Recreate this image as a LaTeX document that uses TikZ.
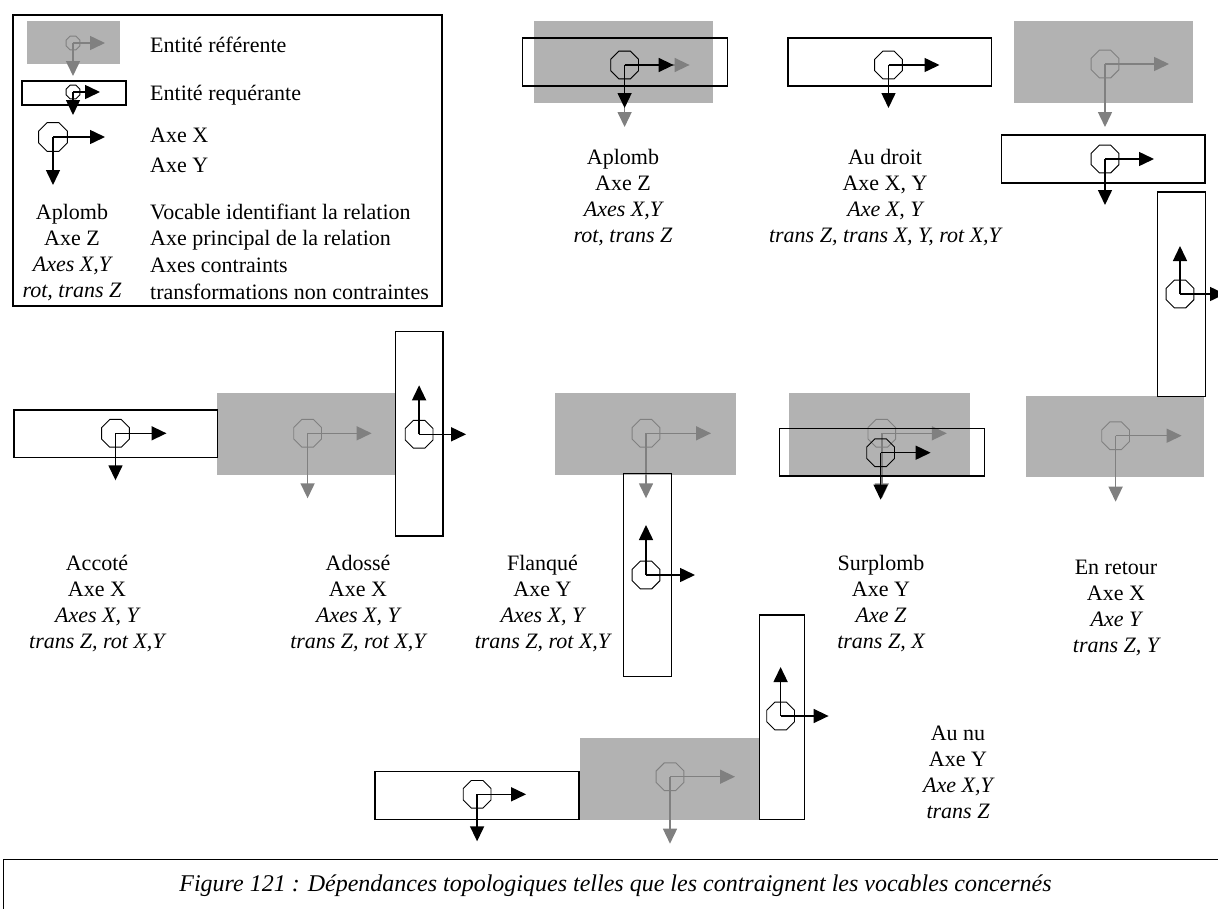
\documentclass[tikz,border=0pt]{standalone}
\usepackage{fontspec}
\setmainfont{Liberation Serif}
\usetikzlibrary{arrows.meta,positioning,shapes.geometric}

\definecolor{refgrey}{RGB}{178,178,178}
\definecolor{axgrey}{RGB}{128,128,128}

\newcommand{\txt}{\fontsize{22}{26}\selectfont}
\newcommand{\lineh}{26pt}

% axis symbol: [octagon size] name, colour, origin, x length, y length
\newcommand{\axsym}[6][30pt]{%
  \node[octo, draw=#3, minimum size=#1] (#2) at (#4) {};
  \draw[axis, #3] (#2.center) -- ++(#5,0);
  \draw[axis, #3] (#2.center) -- ++(0,#6);
}

% vocable block: name, first baseline, four lines
\newcommand{\vocab}[6]{%
  \node[lbl] (#1) at (#2) {#3};
  \node[lbl] (#1-ax) at ([yshift=-\lineh]#1.base) {#4};
  \node[ilbl] (#1-cs) at ([yshift=-\lineh]#1-ax.base) {#5};
  \node[ilbl] (#1-tr) at ([yshift=-\lineh]#1-cs.base) {#6};
}

\begin{document}
\begin{tikzpicture}[x=1pt, y=-1pt,
  lbl/.style={font=\txt, inner sep=0pt, anchor=base},
  ilbl/.style={lbl, font=\txt\itshape},
  leg/.style={lbl, anchor=base west},
  octo/.style={regular polygon, regular polygon sides=8, inner sep=0pt, line width=0.9pt},
  axis/.style={line width=1.5pt, -{Triangle[length=15pt,width=14pt]}},
  reqbox/.style={draw=black, line width=1.5pt},
  boxline/.style={draw=black, line width=1.4pt},
  captext/.style={font=\fontsize{24}{28}\selectfont\itshape, inner sep=0pt, anchor=base}]
  \useasboundingbox (0,0) rectangle (1218,908);
  \clip (0,0) rectangle (1218,908);

  % Legend
  \draw[boxline] (13,15) rectangle (442,306);
  \fill[refgrey] (27,21) rectangle (120,64);
  \axsym[15pt]{lgref}{axgrey}{73,43}{32}{33}
  \draw[reqbox] (22,81) rectangle (126,105);
  \axsym[15pt]{lgreq}{black}{73,92}{27}{23}
  \axsym[31pt]{lgax}{black}{53,137}{52}{48}
  \node[leg] (lg1) at (150,52) {Entité référente};
  \node[leg] (lg2) at (150,100) {Entité requérante};
  \node[leg] (lg3) at (150,142) {Axe X};
  \node[leg] (lg4) at (150,172) {Axe Y};
  \node[leg] (lg5) at (150,219) {Vocable identifiant la relation};
  \node[leg] (lg6) at (150,245) {Axe principal de la relation};
  \node[leg] (lg7) at (150,272) {Axes contraints};
  \node[leg] (lg8) at (150,299) {transformations non contraintes};
  \vocab{lgvoc}{72,219}{Aplomb}{Axe Z}{Axes X,Y}{rot, trans Z}

  % Aplomb
  \fill[refgrey] (534,21) rectangle (713,103);
  \axsym{aplref}{axgrey}{624.6,65}{65}{62}
  \draw[reqbox] (522.5,38) rectangle (727.7,86);
  \axsym{aplreq}{black}{624.6,65}{49}{43}
  \vocab{aplomb}{623,164}{Aplomb}{Axe Z}{Axes X,Y}{rot, trans Z}

  % Au droit
  \draw[reqbox] (788,38) rectangle (991.4,86);
  \axsym{adrreq}{black}{888.5,65}{51}{43}
  \vocab{audroit}{885,164}{Au droit}{Axe X, Y}{Axe X, Y}{trans Z, trans X, Y, rot X,Y}

  % Top right group
  \fill[refgrey] (1013.7,21) rectangle (1193.3,103);
  \axsym{trref}{axgrey}{1105,64}{64}{63}
  \draw[reqbox] (1001.6,135) rectangle (1205,183);
  \axsym{trreq}{black}{1105,159}{49}{46}
  \fill[refgrey] (1025.7,395.7) rectangle (1204,476.7);
  \axsym{erref}{axgrey}{1115.6,435.7}{66}{66}
  \draw[reqbox] (1157.7,192) rectangle (1205.7,396.7);
  \axsym{trvert}{black}{1180,294}{45}{-48}
  \vocab{retour}{1116,574}{En retour}{Axe X}{Axe Y}{trans Z, Y}

  % Accote / Adosse
  \fill[refgrey] (216.7,393.3) rectangle (395.4,475);
  \axsym{adoref}{axgrey}{307.6,433.3}{64}{65}
  \draw[reqbox] (13.8,410) rectangle (217.5,457.3);
  \axsym{accreq}{black}{115.5,433.3}{51}{47}
  \draw[reqbox] (395.4,331.7) rectangle (442.9,536);
  \axsym{adoreq}{black}{419.1,434.3}{47}{-49}
  \vocab{accote}{97,570}{Accoté}{Axe X}{Axes X, Y}{trans Z, rot X,Y}
  \vocab{adosse}{358,570}{Adossé}{Axe X}{Axes X, Y}{trans Z, rot X,Y}

  % Flanque
  \fill[refgrey] (555,392.7) rectangle (736,475);
  \axsym{flaref}{axgrey}{646,433.3}{65}{65}
  \draw[reqbox] (623.3,473.3) rectangle (671.7,676.7);
  \axsym{flareq}{black}{646,575}{49}{-50}
  \vocab{flanque}{542.5,570}{Flanqué}{Axe Y}{Axes X, Y}{trans Z, rot X,Y}

  % Surplomb
  \fill[refgrey] (789.2,392.7) rectangle (969.7,475);
  \axsym{surref}{axgrey}{881.8,433.3}{65}{65}
  \draw[reqbox] (779.3,428.3) rectangle (984.3,476);
  \axsym{surreq}{black}{880.6,452.7}{50}{47}
  \vocab{surplomb}{881,570}{Surplomb}{Axe Y}{Axe Z}{trans Z, X}

  % Au nu
  \fill[refgrey] (580.3,738.3) rectangle (759,820);
  \axsym{nuref}{axgrey}{670,776.7}{65}{67}
  \draw[reqbox] (375.2,771.7) rectangle (579,819.3);
  \axsym{nureq}{black}{477.1,794.3}{49}{47}
  \draw[reqbox] (759.6,615) rectangle (804.5,819.3);
  \axsym{nuvert}{black}{780.6,716}{48}{-49}
  \vocab{aunu}{958,740}{Au nu}{Axe Y}{Axe X,Y}{trans Z}

  % Caption
  \draw[boxline] (3.5,920) -- (3.5,859.5) -- (1230,859.5);
  \node[captext] (caption) at (615.5,891.5) {Figure 121 : Dépendances topologiques telles que les contraignent les vocables concernés};
\end{tikzpicture}
\end{document}
